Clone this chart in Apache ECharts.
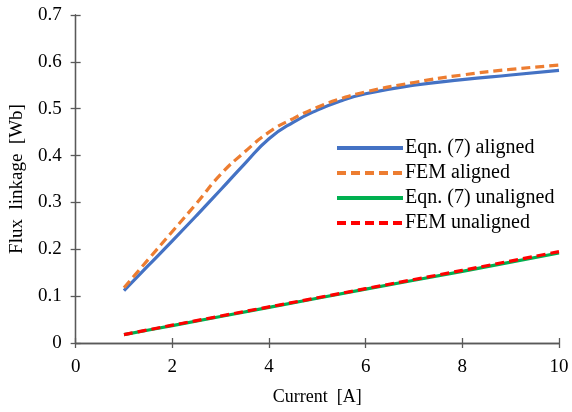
<!DOCTYPE html>
<html>
<head>
<meta charset="utf-8">
<script src="https://cdn.jsdelivr.net/npm/echarts@6/dist/echarts.min.js"></script>
<style>
  html, body { margin: 0; padding: 0; background: #fff; }
  #main { width: 572px; height: 412px; }
</style>
</head>
<body>
<div id="main"></div>
<script>
// current [A] and flux linkage [Wb]
const alignedEqnX = [1, 1.5, 2, 2.5, 3, 3.5, 4, 4.5, 5, 5.5, 6, 7, 8, 9, 10]
const alignedEqnY = [0.112, 0.165, 0.218, 0.272, 0.327, 0.383, 0.436, 0.471, 0.497, 0.517, 0.532, 0.55, 0.562, 0.572, 0.582]
const alignedFemX = [1, 1.5, 2, 2.5, 3, 3.5, 4, 4.5, 5, 5.5, 6, 7, 8, 9, 10]
const alignedFemY = [0.118, 0.178, 0.238, 0.298, 0.36, 0.408, 0.45, 0.479, 0.503, 0.522, 0.536, 0.556, 0.572, 0.584, 0.593]
const unalignedEqnX = [1, 2, 4, 6, 8, 10]
const unalignedEqnY = [0.018, 0.037, 0.076, 0.115, 0.153, 0.192]
const unalignedFemX = [1, 2, 4, 6, 8, 10]
const unalignedFemY = [0.018, 0.038, 0.077, 0.116, 0.155, 0.195]

const xTicks = [0, 2, 4, 6, 8, 10]
const yTicks = [0, 0.1, 0.2, 0.3, 0.4, 0.5, 0.6, 0.7]

const font = 'Liberation Serif'
const axisColor = '#595959'

function pairs(xs, ys) {
  return xs.map((x, i) => [x, ys[i]])
}

const chart = echarts.init(document.getElementById('main'))

const baseX = {
  type: 'value', min: xTicks[0], max: xTicks[xTicks.length - 1], interval: 2,
  axisLine: { onZero: false, lineStyle: { color: axisColor, width: 1.3 } },
  splitLine: { show: false }
}
const baseY = {
  type: 'value', min: yTicks[0], max: yTicks[yTicks.length - 1], interval: 0.1,
  axisLine: { onZero: false, lineStyle: { color: axisColor, width: 1.3 } },
  splitLine: { show: false }
}

chart.setOption({
  animation: false,
  textStyle: { fontFamily: font },
  grid: { left: 74, right: 13, top: 15, bottom: 69 },
  legend: {
    orient: 'vertical',
    left: 330, top: 133,
    itemWidth: 66, itemHeight: 4, itemGap: 5,
    itemStyle: { opacity: 0 },
    lineStyle: { width: 4 },
    textStyle: { fontFamily: font, fontSize: 20, color: '#000', padding: [0, 0, 0, -3] },
    data: ['Eqn. (7) aligned', 'FEM aligned', 'Eqn. (7) unaligned', 'FEM unaligned']
  },
  xAxis: [
    Object.assign({}, baseX, {
      name: 'Current  [A]', nameLocation: 'middle', nameGap: 45,
      nameTextStyle: { fontFamily: font, fontSize: 18, color: '#000' },
      axisTick: { length: 5, lineStyle: { color: axisColor, width: 1.3 } },
      axisLabel: { fontFamily: font, fontSize: 19, color: '#000', margin: 15 }
    }),
    Object.assign({}, baseX, {
      position: 'bottom',
      axisTick: { inside: true, length: 5, lineStyle: { color: axisColor, width: 1.3 } },
      axisLabel: { show: false }
    })
  ],
  yAxis: [
    Object.assign({}, baseY, {
      name: 'Flux  linkage  [Wb]', nameLocation: 'middle', nameGap: 47,
      nameTextStyle: { fontFamily: font, fontSize: 19, color: '#000' },
      axisTick: { length: 5, lineStyle: { color: axisColor, width: 1.3 } },
      axisLabel: { fontFamily: font, fontSize: 19, color: '#000', margin: 14,
        formatter: v => v === 0 ? '0' : v.toFixed(1) }
    }),
    Object.assign({}, baseY, {
      position: 'left',
      axisTick: { inside: true, length: 5, lineStyle: { color: axisColor, width: 1.3 } },
      axisLabel: { show: false }
    })
  ],
  series: [
    {
      name: 'Eqn. (7) aligned', type: 'line', data: pairs(alignedEqnX, alignedEqnY),
      smooth: 0.5, symbol: 'none', color: '#4472C4',
      lineStyle: { width: 3.2, color: '#4472C4' }
    },
    {
      name: 'FEM aligned', type: 'line', data: pairs(alignedFemX, alignedFemY),
      smooth: 0.5, symbol: 'none', color: '#ED7D31',
      lineStyle: { width: 3.2, color: '#ED7D31', type: [9, 5] }
    },
    {
      name: 'Eqn. (7) unaligned', type: 'line', data: pairs(unalignedEqnX, unalignedEqnY),
      smooth: 0.3, symbol: 'none', color: '#00B050',
      lineStyle: { width: 3.2, color: '#00B050' }
    },
    {
      name: 'FEM unaligned', type: 'line', data: pairs(unalignedFemX, unalignedFemY),
      smooth: 0.3, symbol: 'none', color: '#FF0000',
      lineStyle: { width: 3.2, color: '#FF0000', type: [9, 5] }
    }
  ]
})
</script>
</body>
</html>
